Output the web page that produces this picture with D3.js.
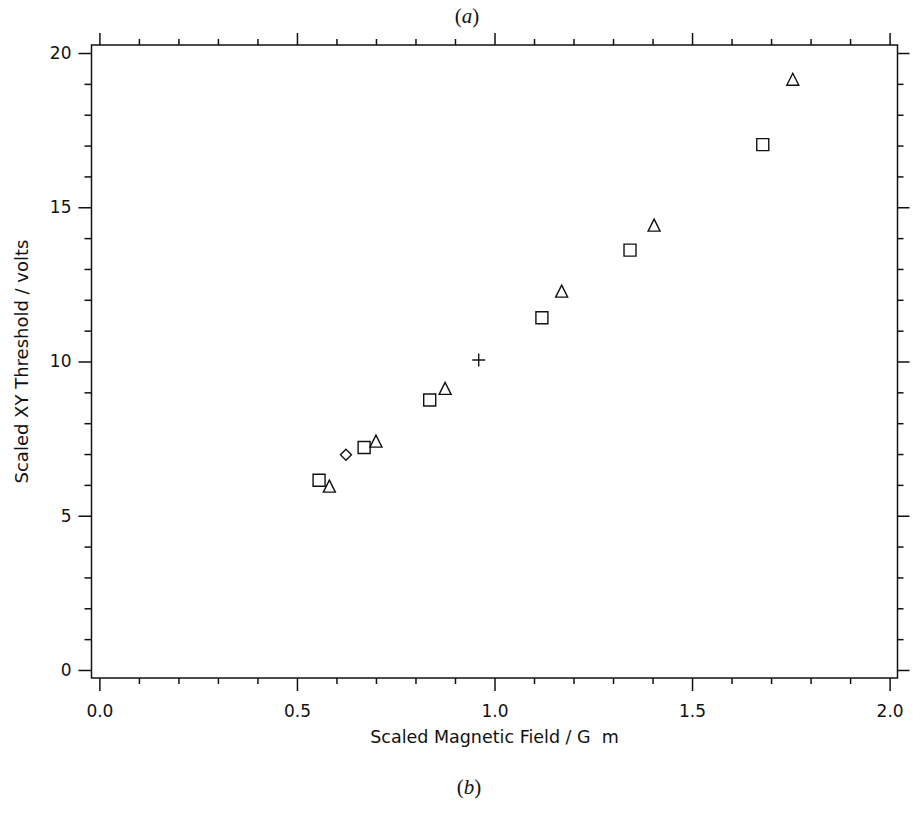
<!DOCTYPE html>
<html>
<head>
<meta charset="utf-8">
<script src="https://cdn.jsdelivr.net/npm/d3@7"></script>
<style>
  html, body { margin: 0; padding: 0; background: #fff; }
  svg { display: block; }
  text { fill: #111; }
</style>
</head>
<body>
<svg id="chart" width="920" height="814"></svg>
<script>
// Scaled magnetic field (G m) vs scaled XY threshold (volts), four data sets
const squareField   = [0.556, 0.670, 0.836, 1.120, 1.343, 1.679];
const squareVolts   = [6.15, 7.21, 8.75, 11.42, 13.61, 17.03];
const triangleField = [0.582, 0.700, 0.875, 1.170, 1.404, 1.755];
const triangleVolts = [5.96, 7.42, 9.13, 12.28, 14.42, 19.15];
const diamondField  = [0.624];
const diamondVolts  = [6.98];
const plusField     = [0.960];
const plusVolts     = [10.05];

const xMajorTicks = [0, 0.5, 1.0, 1.5, 2.0];
const yMajorTicks = [0, 5, 10, 15, 20];
const xLabel = "Scaled Magnetic Field / G\u00a0\u00a0m";
const yLabel = "Scaled XY Threshold / volts";

const svg = d3.select("#chart");
const box = { left: 91.5, right: 897.5, top: 45, bottom: 678 };

const x = d3.scaleLinear().domain([-0.02, 2.02]).range([box.left, box.right]);
const y = d3.scaleLinear().domain([-0.26, 20.26]).range([box.bottom, box.top]);

const xMinor = d3.range(0, 2.0001, 0.1).filter(v => !xMajorTicks.some(m => Math.abs(m - v) < 1e-6));
const yMinor = d3.range(0, 20.0001, 1).filter(v => !yMajorTicks.some(m => Math.abs(m - v) < 1e-6));

const fontFamily = "'DejaVu Sans', Verdana, sans-serif";

function styleAxis(g) {
  g.select(".domain").remove();
  g.selectAll(".tick line").attr("stroke", "#111").attr("stroke-width", 1.5);
  g.selectAll("text").attr("font-family", fontFamily).attr("font-size", 17).attr("fill", "#111");
}

// bottom axis: labelled major ticks plus minor ticks
svg.append("g").attr("transform", `translate(0,${box.bottom})`)
  .call(d3.axisBottom(x).tickValues(xMajorTicks).tickSize(13).tickPadding(14).tickFormat(d3.format(".1f")))
  .call(styleAxis);
svg.append("g").attr("transform", `translate(0,${box.bottom})`)
  .call(d3.axisBottom(x).tickValues(xMinor).tickSize(6).tickFormat(""))
  .call(styleAxis);

// top axis: mirrored ticks, no labels
svg.append("g").attr("transform", `translate(0,${box.top})`)
  .call(d3.axisTop(x).tickValues(xMajorTicks).tickSize(12).tickFormat(""))
  .call(styleAxis);
svg.append("g").attr("transform", `translate(0,${box.top})`)
  .call(d3.axisTop(x).tickValues(xMinor).tickSize(6).tickFormat(""))
  .call(styleAxis);

// left axis: labelled
svg.append("g").attr("transform", `translate(${box.left},0)`)
  .call(d3.axisLeft(y).tickValues(yMajorTicks).tickSize(13).tickPadding(7).tickFormat(d3.format("d")))
  .call(styleAxis);
svg.append("g").attr("transform", `translate(${box.left},0)`)
  .call(d3.axisLeft(y).tickValues(yMinor).tickSize(7).tickFormat(""))
  .call(styleAxis);

// right axis: mirrored ticks
svg.append("g").attr("transform", `translate(${box.right},0)`)
  .call(d3.axisRight(y).tickValues(yMajorTicks).tickSize(12).tickFormat(""))
  .call(styleAxis);
svg.append("g").attr("transform", `translate(${box.right},0)`)
  .call(d3.axisRight(y).tickValues(yMinor).tickSize(6).tickFormat(""))
  .call(styleAxis);

// frame
svg.append("rect")
  .attr("x", box.left).attr("y", box.top)
  .attr("width", box.right - box.left).attr("height", box.bottom - box.top)
  .attr("fill", "none").attr("stroke", "#111").attr("stroke-width", 1.5);

// marker shapes
const symSquare = { draw(ctx, s) { const h = s / 2; ctx.rect(-h, -h, s, s); } };
const symTriangle = { draw(ctx, s) { const h = s / 2; ctx.moveTo(0, -h); ctx.lineTo(h, h); ctx.lineTo(-h, h); ctx.closePath(); } };
const symDiamond = { draw(ctx, s) { const h = s / 2; ctx.moveTo(0, -h); ctx.lineTo(h, 0); ctx.lineTo(0, h); ctx.lineTo(-h, 0); ctx.closePath(); } };
const symPlus = { draw(ctx, s) { const h = s / 2; ctx.moveTo(-h, 0); ctx.lineTo(h, 0); ctx.moveTo(0, -h); ctx.lineTo(0, h); } };

const series = [
  { xs: squareField,   ys: squareVolts,   type: symSquare,   size: 12 },
  { xs: triangleField, ys: triangleVolts, type: symTriangle, size: 12 },
  { xs: diamondField,  ys: diamondVolts,  type: symDiamond,  size: 11 },
  { xs: plusField,     ys: plusVolts,     type: symPlus,     size: 13 }
];

series.forEach(s => {
  const pts = s.xs.map((v, i) => [v, s.ys[i]]);
  svg.append("g").selectAll("path").data(pts).join("path")
    .attr("transform", d => `translate(${x(d[0])},${y(d[1])})`)
    .attr("d", d3.symbol().type(s.type).size(s.size))
    .attr("fill", "none").attr("stroke", "#111").attr("stroke-width", 1.4);
});

// axis titles
svg.append("text")
  .attr("x", (x(0) + x(2)) / 2).attr("y", 743)
  .attr("text-anchor", "middle").attr("font-family", fontFamily).attr("font-size", 17.5)
  .text(xLabel);
svg.append("text")
  .attr("transform", `translate(28,${y(10)}) rotate(-90)`)
  .attr("text-anchor", "middle").attr("font-family", fontFamily).attr("font-size", 18)
  .text(yLabel);

// panel captions
function caption(letter, cx, baseline) {
  const t = svg.append("text").attr("x", cx).attr("y", baseline)
    .attr("text-anchor", "middle").attr("font-family", "'Liberation Serif', 'Times New Roman', serif")
    .attr("font-size", 21);
  t.append("tspan").text("(");
  t.append("tspan").attr("font-style", "italic").text(letter);
  t.append("tspan").text(")");
}
caption("a", 467, 23);
caption("b", 469, 794);
</script>
</body>
</html>
